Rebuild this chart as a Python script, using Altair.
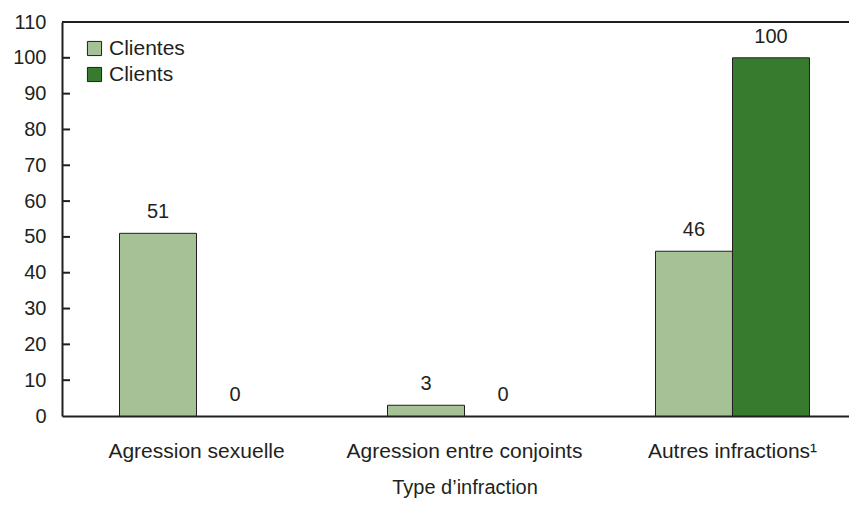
import altair as alt
import pandas as pd

categories = ["Agression sexuelle", "Agression entre conjoints", "Autres infractions¹"]
series = ["Clientes", "Clients"]
clientes = [51, 3, 46]
clients = [0, 0, 100]
y_ticks = list(range(0, 111, 10))
inner_ticks = list(range(10, 101, 10))
y_max = 110

rows = []
for c, a, b in zip(categories, clientes, clients):
    rows.append({"cat": c, "serie": "Clientes", "val": a})
    rows.append({"cat": c, "serie": "Clients", "val": b})
df = pd.DataFrame(rows)
ticks_df = pd.DataFrame({"val": inner_ticks})
top_df = pd.DataFrame({"val": [y_max]})

FONT = "Liberation Sans"
FS = 20
FT = 21
INK = "#231f20"
W, H = 785, 394
XR = 805  # plot continues past the right edge of the picture

yscale = alt.Scale(domain=[0, y_max], nice=False)
yaxis = alt.Axis(title=None, values=y_ticks, tickSize=0, grid=False,
                 labelOverlap=False,
                 domainColor=INK, domainWidth=2, labelPadding=16,
                 labelFontSize=FS, labelColor=INK, labelFont=FONT)

x = alt.X("cat:N", sort=categories,
          scale=alt.Scale(paddingInner=0.4254, paddingOuter=0.2146, range=[0, XR]),
          axis=alt.Axis(title="Type d’infraction", labelAngle=0, ticks=False,
                        domainColor=INK, domainWidth=2, labelPadding=24,
                        titlePadding=16, labelFontSize=FT, titleFontSize=FS,
                        labelLimit=400, labelOverlap=False,
                        titleFontWeight="normal", labelColor=INK,
                        titleColor=INK, labelFont=FONT, titleFont=FONT))
y = alt.Y("val:Q", scale=yscale, axis=yaxis)
color = alt.Color("serie:N", sort=series,
                  scale=alt.Scale(domain=series, range=["#a5c195", "#377b2f"]),
                  legend=alt.Legend(title=None, orient="none", legendX=22, legendY=16,
                                    symbolType="square", symbolSize=200,
                                    symbolStrokeColor=INK, symbolStrokeWidth=1,
                                    labelFontSize=FT, labelFont=FONT, labelColor=INK,
                                    rowPadding=4, labelOffset=4))
xoff = alt.XOffset("serie:N", sort=series, scale=alt.Scale(domain=series))

bars = alt.Chart(df).mark_bar(stroke=INK, strokeWidth=1).encode(
    x=x, y=y, color=color, xOffset=xoff).transform_filter(alt.datum.val > 0)

labels = alt.Chart(df).mark_text(baseline="bottom", dy=-11, fontSize=FS, font=FONT,
                                 color=INK).encode(
    x=alt.X("cat:N", sort=categories), y=y, xOffset=xoff, text="val:Q")

ticks = alt.Chart(ticks_df).mark_rule(color=INK, strokeWidth=2).encode(
    y=y, x=alt.value(0), x2=alt.value(8))

top = alt.Chart(top_df).mark_rule(color=INK, strokeWidth=2).encode(
    y=y, x=alt.value(0), x2=alt.value(XR))

chart = alt.layer(bars, labels, ticks, top).properties(
    width=W, height=H,
    autosize=alt.AutoSizeParams(type="none"),
    padding={"left": 54, "top": 14, "right": 2, "bottom": 82},
).configure_view(stroke=None)

chart.save("out.html", embed_options={"renderer": "svg", "actions": False})
